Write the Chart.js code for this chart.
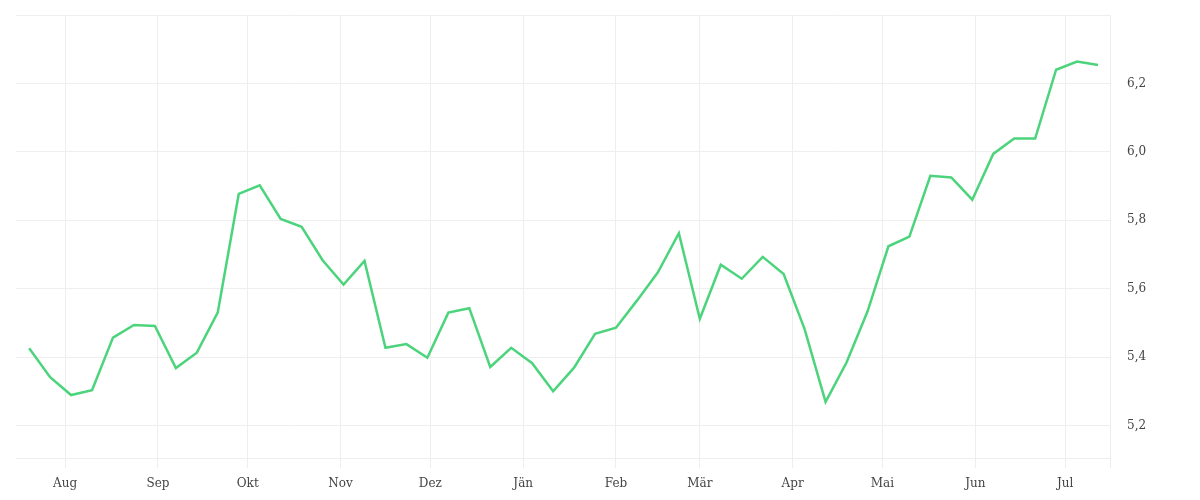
<!DOCTYPE html>
<html lang="de">
<head>
    <meta charset="UTF-8">
    <title>Wochenverlauf</title>
    <style>
        * {
            margin: 0;
            padding: 0;
            box-sizing: border-box;
        }

        body {
            background: #fff;
        }

        .chart-box {
            width: 1200px;
            height: 500px;
        }
    </style>
    <script src="https://cdn.jsdelivr.net/npm/chart.js"></script>
</head>
<body>
    <div class="chart-box">
        <canvas id="lineChart"></canvas>
    </div>

    <script>
        // weekly observations, day offset counted from 1 Aug
        const weekDays = [];
        for (let d = -12; d <= 345; d += 7) weekDays.push(d);

        const values = [
            5.426, 5.341, 5.289, 5.303, 5.457, 5.494, 5.491, 5.368, 5.413, 5.531,
            5.877, 5.902, 5.804, 5.781, 5.683, 5.612, 5.681, 5.427, 5.438, 5.398,
            5.530, 5.543, 5.371, 5.427, 5.382, 5.300, 5.369, 5.468, 5.486, 5.565,
            5.648, 5.762, 5.512, 5.670, 5.629, 5.693, 5.643, 5.482, 5.269, 5.384,
            5.533, 5.724, 5.752, 5.930, 5.925, 5.860, 5.994, 6.039, 6.039, 6.240,
            6.264, 6.254
        ];

        // month starts (day offset) and their labels
        const monthDays = [0, 31, 61, 92, 122, 153, 184, 212, 243, 273, 304, 334];
        const monthLabels = ['Aug', 'Sep', 'Okt', 'Nov', 'Dez', 'Jän', 'Feb', 'Mär', 'Apr', 'Mai', 'Jun', 'Jul'];

        const yTicks = [5.2, 5.4, 5.6, 5.8, 6.0, 6.2, 6.4];

        const xMin = -16.4;
        const xMax = 349;

        const gridColor = '#eeeeee';
        const labelFont = { family: 'DejaVu Serif', size: 12 };

        const points = weekDays.map((d, i) => ({ x: d, y: values[i] }));

        new Chart(document.getElementById('lineChart'), {
            type: 'line',
            data: {
                datasets: [{
                    data: points,
                    borderColor: '#4cd47c',
                    borderWidth: 2.5,
                    pointRadius: 0,
                    tension: 0,
                    fill: false
                }]
            },
            options: {
                responsive: true,
                maintainAspectRatio: false,
                animation: false,
                layout: {
                    padding: { left: 16, top: 15, right: 0, bottom: 0 }
                },
                plugins: {
                    legend: { display: false },
                    tooltip: { enabled: false }
                },
                scales: {
                    x: {
                        type: 'linear',
                        min: xMin,
                        max: xMax,
                        afterBuildTicks: axis => {
                            // month ticks plus one unlabeled tick at the right edge
                            axis.ticks = monthDays.map(v => ({ value: v })).concat([{ value: xMax }]);
                        },
                        afterFit: axis => {
                            axis.height = 42;
                            axis.paddingLeft = 0;
                            axis.paddingRight = 0;
                        },
                        ticks: {
                            autoSkip: false,
                            maxRotation: 0,
                            padding: 9,
                            color: '#444',
                            font: labelFont,
                            callback: (v, i) => monthLabels[i] || ''
                        },
                        grid: {
                            color: gridColor,
                            tickLength: 10,
                            drawTicks: true
                        },
                        border: { display: true, color: gridColor }
                    },
                    y: {
                        position: 'right',
                        min: 5.105,
                        max: 6.4,
                        afterBuildTicks: axis => {
                            axis.ticks = yTicks.map(v => ({ value: v }));
                        },
                        afterFit: axis => {
                            axis.width = 90;
                            axis.paddingTop = 0;
                            axis.paddingBottom = 0;
                        },
                        ticks: {
                            padding: 17,
                            color: '#444',
                            font: labelFont,
                            callback: v => (v > 6.3 ? '' : v.toFixed(1).replace('.', ','))
                        },
                        grid: {
                            color: gridColor,
                            drawTicks: false
                        },
                        border: { display: true, color: gridColor }
                    }
                }
            }
        });
    </script>
</body>
</html>
